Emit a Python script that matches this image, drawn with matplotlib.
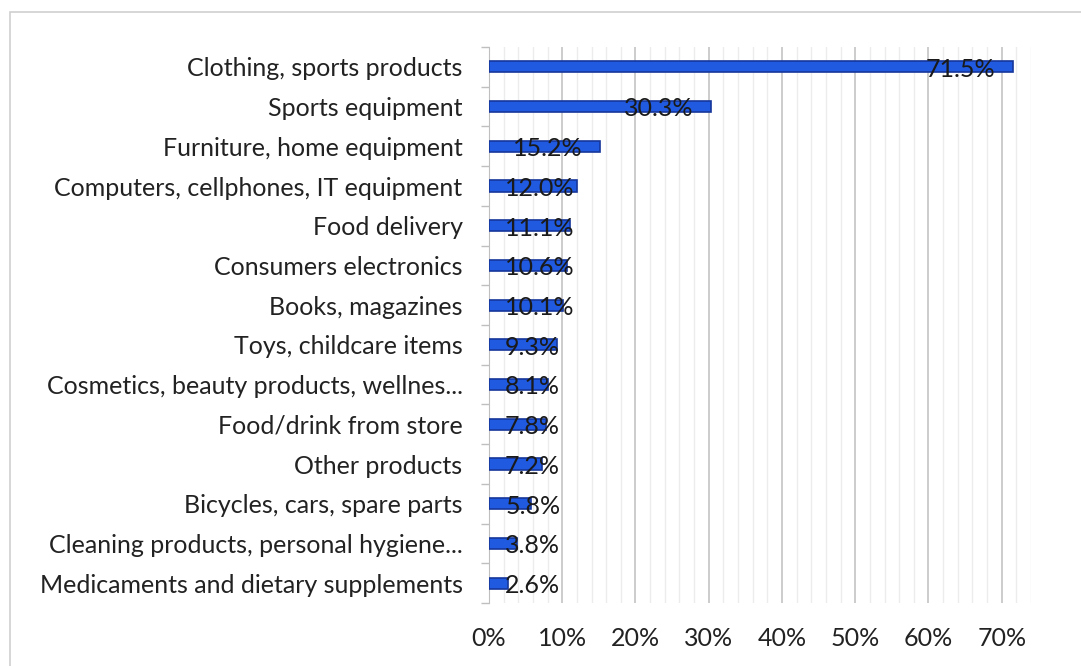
import matplotlib.pyplot as plt
import numpy as np
from matplotlib.patches import Rectangle

categories = [
    "Clothing, sports products",
    "Sports equipment",
    "Furniture, home equipment",
    "Computers, cellphones, IT equipment",
    "Food delivery",
    "Consumers electronics",
    "Books, magazines",
    "Toys, childcare items",
    "Cosmetics, beauty products, wellnes...",
    "Food/drink from store",
    "Other products",
    "Bicycles, cars, spare parts",
    "Cleaning products, personal hygiene...",
    "Medicaments and dietary supplements",
]
shares = [71.5, 30.3, 15.2, 12.0, 11.1, 10.6, 10.1, 9.3, 8.1, 7.8, 7.2, 5.8, 3.8, 2.6]
xticks = [0, 10, 20, 30, 40, 50, 60, 70]

plt.rcParams['font.family'] = ['Lato', 'DejaVu Sans']
FS = 18

fig = plt.figure(figsize=(10.81, 6.66), dpi=100)
W, H = 1081, 666
ax = fig.add_axes([489 / W, 1 - 603 / H, (1031 - 489) / W, (603 - 47) / H])

# chart frame
fig.patches.append(Rectangle((10 / W, -0.1), 1.2, 1 - 12 / H + 0.1,
                             transform=fig.transFigure, fill=False,
                             edgecolor='#d0d0d0', linewidth=1.2))

y = np.arange(len(categories))
ax.barh(y, shares, height=0.28, color='#1f5ae0', edgecolor='#17379a', linewidth=1.2, zorder=3)

# value labels: inside the bar end, or pinned near the axis when the bar is short
for yi, v in zip(y, shares):
    txt = f"{v:.1f}%"
    if v - 11.2 >= 2.2:
        ax.text(v - 2.4, yi + 0.06, txt, ha='right', va='center', fontsize=FS, color='#1a1a1a', zorder=4)
    else:
        ax.text(2.2, yi + 0.06, txt, ha='left', va='center', fontsize=FS, color='#1a1a1a', zorder=4)

ax.set_xlim(0, 74)
ax.set_ylim(len(categories) - 0.5, -0.5)
ax.set_yticks(y)
ax.set_yticklabels(categories, fontsize=FS, color='#222222')
ax.set_yticks(np.arange(len(categories) + 1) - 0.5, minor=True)
ax.tick_params(axis='y', which='major', length=0, pad=19)
ax.tick_params(axis='y', which='minor', length=6, color='#bfbfbf', width=1)

ax.set_xticks(xticks)
ax.set_xticklabels([f"{t}%" for t in xticks], fontsize=FS, color='#222222')
ax.set_xticks(np.arange(0, 75, 2), minor=True)
ax.tick_params(axis='x', which='both', length=0, pad=17)
ax.grid(axis='x', which='major', color='#c4c4c4', linewidth=1.2, zorder=0)
ax.grid(axis='x', which='minor', color='#ececec', linewidth=1.0, zorder=0)

for s in ['top', 'right', 'bottom']:
    ax.spines[s].set_visible(False)
ax.spines['left'].set_color('#bfbfbf')

fig.savefig('out.png', dpi=100)
